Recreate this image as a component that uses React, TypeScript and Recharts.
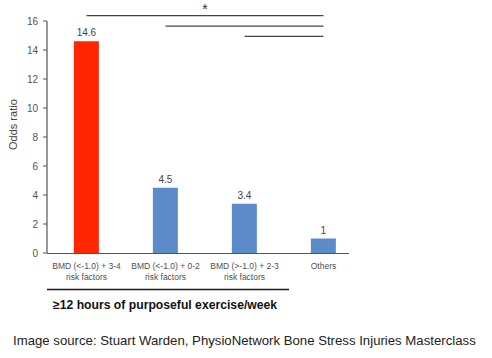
import { BarChart, Bar, XAxis, YAxis, Cell, LabelList, ReferenceLine } from 'recharts'

const groups = ['g1', 'g2', 'g3', 'g4']
const labelTop = ['BMD (<-1.0) + 3-4', 'BMD (<-1.0) + 0-2', 'BMD (>-1.0) + 2-3', 'Others']
const labelBottom = ['risk factors', 'risk factors', 'risk factors', '']
const oddsRatios = [14.6, 4.5, 3.4, 1]
const barColors = ['#ff2600', '#5b8bc8', '#5b8bc8', '#5b8bc8']
const yTicks = [0, 2, 4, 6, 8, 10, 12, 14, 16]
// comparisons against "Others", stacked above the bars
const comparisons = [
  { from: 'g1', level: 16.37 },
  { from: 'g2', level: 15.65 },
  { from: 'g3', level: 14.94 }
]

const data = groups.map((g, i) => ({ group: g, value: oddsRatios[i] }))

function CategoryTick({ x, y, payload }: any) {
  const i = groups.indexOf(payload.value)
  return (
    <text x={x} y={y} textAnchor="middle" fontSize={8.5} fill="#505050" fontFamily="Liberation Sans, Arial, sans-serif">
      <tspan x={x} dy={8}>{labelTop[i]}</tspan>
      <tspan x={x} dy={11}>{labelBottom[i]}</tspan>
    </text>
  )
}

export default function App() {
  return (
    <div style={{ position: 'absolute', left: 0, top: 0, width: 492, height: 358, background: '#fff', fontFamily: 'Liberation Sans, Arial, sans-serif' }}>
      <BarChart
        width={492}
        height={300}
        data={data}
        margin={{ top: 21, right: 129, bottom: 17, left: 0 }}
        barCategoryGap="34%"
      >
        <XAxis
          dataKey="group"
          axisLine={false}
          tickLine={false}
          height={30}
          interval={0}
          tick={<CategoryTick />}
        />
        <YAxis
          domain={[0, 16]}
          ticks={yTicks}
          width={47}
          tickSize={4}
          tickMargin={5}
          axisLine={{ stroke: '#555', strokeWidth: 1.2 }}
          tickLine={{ stroke: '#555' }}
          tick={{ fontSize: 10, fill: '#555' }}
          label={{ value: 'Odds ratio', angle: -90, position: 'insideLeft', offset: 13, dy: 13, fontSize: 11, fill: '#444' }}
        />
        {comparisons.map((c, i) => (
          <ReferenceLine
            key={c.from}
            segment={[{ x: c.from, y: c.level }, { x: 'g4', y: c.level }]}
            ifOverflow="visible"
            stroke="#444"
            strokeWidth={1.3}
            label={i === 0 ? { value: '*', position: 'top', offset: 2, fontSize: 14, fill: '#333' } : undefined}
          />
        ))}
        <Bar dataKey="value" isAnimationActive={false}>
          {data.map((_, i) => (
            <Cell key={`cell-${i}`} fill={barColors[i]} />
          ))}
          <LabelList dataKey="value" position="top" fontSize={10} fill="#444" />
        </Bar>
      </BarChart>
      <svg width={492} height={358} style={{ position: 'absolute', left: 0, top: 0, pointerEvents: 'none' }}>
        <line x1={47} y1={253.5} x2={349} y2={253.5} stroke="#555" strokeWidth={1.2} />
        <line x1={47} y1={289.5} x2={289} y2={289.5} stroke="#1a1a1a" strokeWidth={1.5} />
        <text x={53} y={309} fontSize={12.2} fontWeight="bold" fill="#111">≥12 hours of purposeful exercise/week</text>
        <text x={13} y={345} fontSize={13.2} fill="#222">Image source: Stuart Warden, PhysioNetwork Bone Stress Injuries Masterclass</text>
      </svg>
    </div>
  )
}
